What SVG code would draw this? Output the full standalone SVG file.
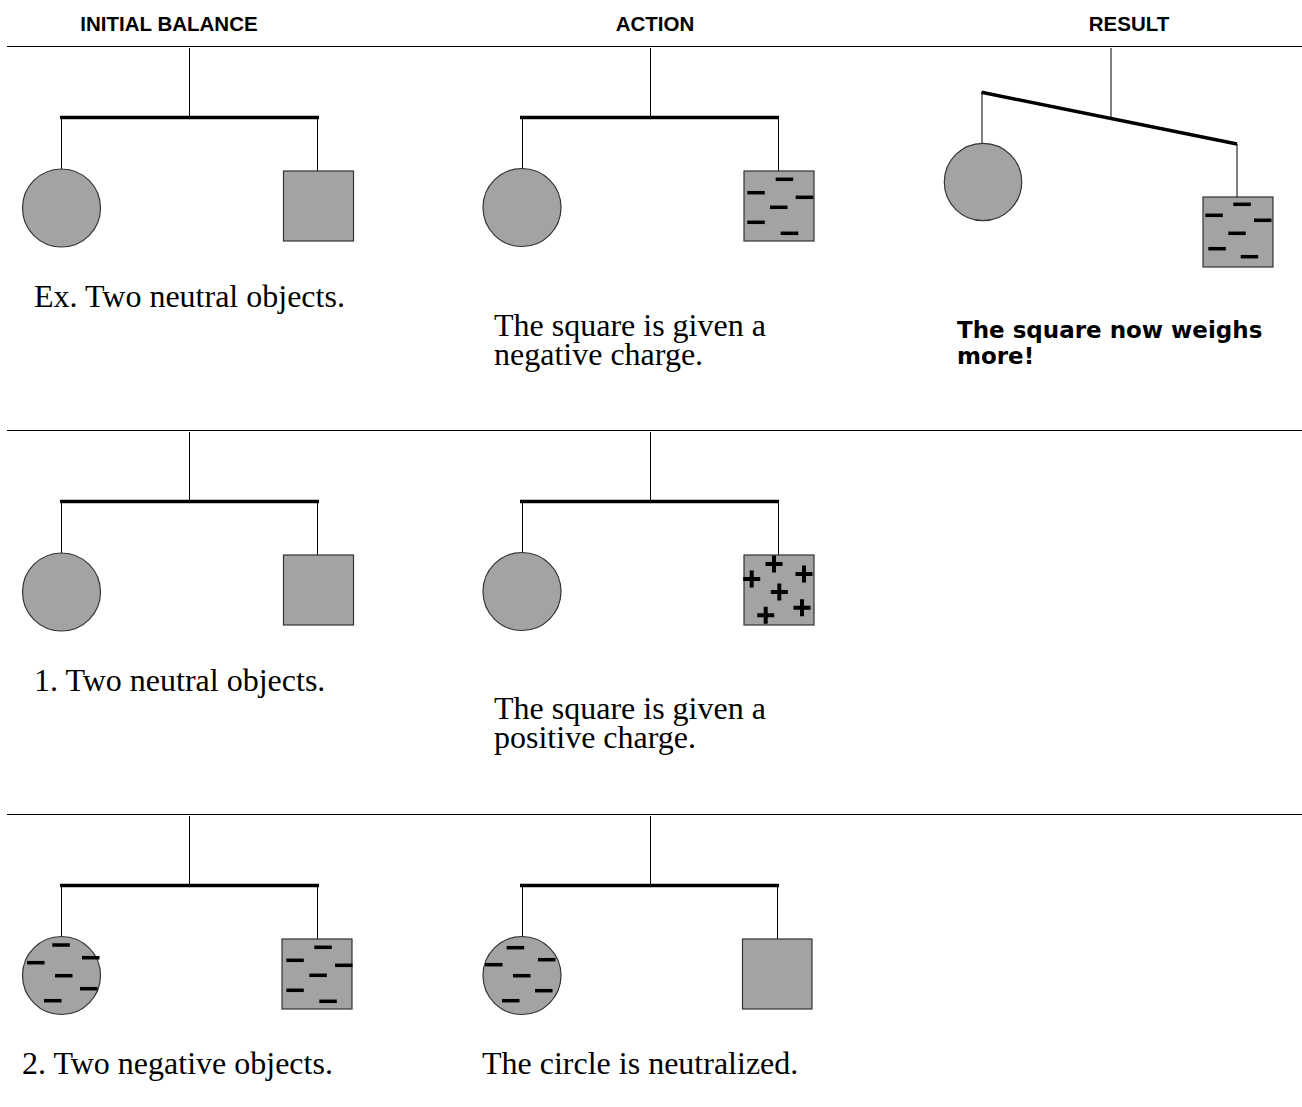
<svg xmlns="http://www.w3.org/2000/svg" width="1302" height="1107" viewBox="0 0 1302 1107">
<style>
  .sep{stroke:#000;stroke-width:1.2;fill:none}
  .str{stroke:#000;stroke-width:1;fill:none}
  .beam{stroke:#000;stroke-width:3.5;fill:none}
  .obj{fill:#a3a3a3;stroke:#333;stroke-width:1.2}
  .neg{fill:#000}
  .pos{stroke:#000;stroke-width:4;fill:none}
  .hdr{font-family:"Liberation Sans",Arial,sans-serif;font-weight:bold;font-size:20.5px;fill:#000;text-anchor:middle}
  .cap{font-family:"Liberation Serif","Times New Roman",serif;font-size:32px;fill:#000}
  .comic{font-family:"Comic Sans MS","DejaVu Sans",sans-serif;font-weight:bold;font-size:23px;fill:#000}
</style>
<defs>
  <rect id="m" class="neg" x="0" y="-1.75" width="17.5" height="3.5"/>
  <path id="p" class="pos" d="M-8.5 0H8.5M0 -8.5V8.5"/>
</defs>
<rect width="1302" height="1107" fill="#fff"/>

<g id="headers">
  <text class="hdr" x="169" y="31">INITIAL BALANCE</text>
  <text class="hdr" x="655" y="31">ACTION</text>
  <text class="hdr" x="1129" y="31">RESULT</text>
</g>

<g id="separators">
  <line class="sep" x1="7" y1="46.5" x2="1302" y2="46.5"/>
  <line class="sep" x1="7" y1="430.5" x2="1302" y2="430.5"/>
  <line class="sep" x1="7" y1="814.5" x2="1302" y2="814.5"/>
</g>

<g id="connectors">
  <!-- row 1 initial -->
  <line class="str" x1="189.5" y1="48" x2="189.5" y2="117"/>
  <line class="beam" x1="60" y1="117.5" x2="319" y2="117.5"/>
  <line class="str" x1="61.5" y1="117" x2="61.5" y2="169"/>
  <line class="str" x1="317.5" y1="117" x2="317.5" y2="171"/>
  <!-- row 1 action -->
  <line class="str" x1="650.5" y1="48" x2="650.5" y2="117"/>
  <line class="beam" x1="520" y1="117.5" x2="779" y2="117.5"/>
  <line class="str" x1="522.5" y1="117" x2="522.5" y2="169"/>
  <line class="str" x1="778.5" y1="117" x2="778.5" y2="171"/>
  <!-- row 1 result -->
  <line class="str" x1="1111" y1="48" x2="1111" y2="118"/>
  <line class="beam" x1="981.5" y1="92.3" x2="1237" y2="144"/>
  <line class="str" x1="982" y1="92" x2="982" y2="143.5"/>
  <line class="str" x1="1237" y1="144" x2="1237" y2="197"/>
  <!-- row 2 initial -->
  <line class="str" x1="189.5" y1="432" x2="189.5" y2="501"/>
  <line class="beam" x1="60" y1="501.5" x2="319" y2="501.5"/>
  <line class="str" x1="61.5" y1="501" x2="61.5" y2="553"/>
  <line class="str" x1="317.5" y1="501" x2="317.5" y2="555"/>
  <!-- row 2 action -->
  <line class="str" x1="650.5" y1="432" x2="650.5" y2="501"/>
  <line class="beam" x1="520" y1="501.5" x2="779" y2="501.5"/>
  <line class="str" x1="522.5" y1="501" x2="522.5" y2="553"/>
  <line class="str" x1="778.5" y1="501" x2="778.5" y2="555"/>
  <!-- row 3 initial -->
  <line class="str" x1="189.5" y1="816" x2="189.5" y2="885"/>
  <line class="beam" x1="60" y1="885.5" x2="319" y2="885.5"/>
  <line class="str" x1="61.5" y1="885" x2="61.5" y2="937"/>
  <line class="str" x1="317.5" y1="885" x2="317.5" y2="939"/>
  <!-- row 3 action -->
  <line class="str" x1="650.5" y1="816" x2="650.5" y2="885"/>
  <line class="beam" x1="520" y1="885.5" x2="779" y2="885.5"/>
  <line class="str" x1="522.5" y1="885" x2="522.5" y2="937"/>
  <line class="str" x1="777.5" y1="885" x2="777.5" y2="939"/>
</g>

<!-- Row 1 -->
<g id="ex-initial-circle"><circle class="obj" cx="61.5" cy="208" r="39"/></g>
<g id="ex-initial-square"><rect class="obj" x="283.5" y="171" width="70" height="70"/></g>

<g id="ex-action-circle"><circle class="obj" cx="522" cy="207.5" r="39"/></g>
<g id="ex-action-square">
  <rect class="obj" x="744" y="171" width="70" height="70"/>
  <use href="#m" x="775.7" y="179.3"/>
  <use href="#m" x="747.3" y="192.7"/>
  <use href="#m" x="795.7" y="197.3"/>
  <use href="#m" x="770" y="207.3"/>
  <use href="#m" x="747.3" y="222.3"/>
  <use href="#m" x="780.7" y="233.3"/>
</g>

<g id="ex-result-circle"><circle class="obj" cx="983" cy="182" r="38.7"/></g>
<g id="ex-result-square">
  <rect class="obj" x="1203" y="197" width="70" height="70"/>
  <use href="#m" x="1233.3" y="204.3"/>
  <use href="#m" x="1205.3" y="215.3"/>
  <use href="#m" x="1254" y="220.3"/>
  <use href="#m" x="1228.3" y="233.3"/>
  <use href="#m" x="1208.3" y="248.7"/>
  <use href="#m" x="1240.7" y="256.7"/>
</g>

<g id="ex-captions">
  <text class="cap" x="34" y="307">Ex. Two neutral objects.</text>
  <text class="cap" x="494" y="336">The square is given a<tspan x="494" dy="29">negative charge.</tspan></text>
  <text class="comic" x="957" y="338">The square now weighs<tspan x="957" dy="26">more!</tspan></text>
</g>

<!-- Row 2 -->
<g id="r1-initial-circle"><circle class="obj" cx="61.5" cy="592" r="39"/></g>
<g id="r1-initial-square"><rect class="obj" x="283.5" y="555" width="70" height="70"/></g>

<g id="r1-action-circle"><circle class="obj" cx="522" cy="591.5" r="39"/></g>
<g id="r1-action-square">
  <rect class="obj" x="744" y="555" width="70" height="70"/>
  <use href="#p" x="774" y="564"/>
  <use href="#p" x="751.7" y="579"/>
  <use href="#p" x="804" y="574"/>
  <use href="#p" x="779.3" y="592"/>
  <use href="#p" x="802" y="607.7"/>
  <use href="#p" x="765.7" y="615.3"/>
</g>

<g id="r1-captions">
  <text class="cap" x="34" y="691">1. Two neutral objects.</text>
  <text class="cap" x="494" y="719">The square is given a<tspan x="494" dy="29">positive charge.</tspan></text>
</g>

<!-- Row 3 -->
<g id="r2-initial-circle">
  <circle class="obj" cx="61.5" cy="975.5" r="39"/>
  <use href="#m" x="52.3" y="945"/>
  <use href="#m" x="27" y="962.7"/>
  <use href="#m" x="82" y="957.7"/>
  <use href="#m" x="55" y="975.7"/>
  <use href="#m" x="80" y="988.7"/>
  <use href="#m" x="44" y="1000.7"/>
</g>
<g id="r2-initial-square">
  <rect class="obj" x="282" y="939" width="70" height="70"/>
  <use href="#m" x="314.3" y="947.3"/>
  <use href="#m" x="286.3" y="960.3"/>
  <use href="#m" x="335" y="965.3"/>
  <use href="#m" x="309.3" y="975.3"/>
  <use href="#m" x="286.3" y="990.3"/>
  <use href="#m" x="319.3" y="1001.3"/>
</g>

<g id="r2-action-circle">
  <circle class="obj" cx="522" cy="975.5" r="39"/>
  <use href="#m" x="506.7" y="947.7"/>
  <use href="#m" x="485" y="964.7"/>
  <use href="#m" x="538" y="959.7"/>
  <use href="#m" x="513" y="975.7"/>
  <use href="#m" x="535" y="990.7"/>
  <use href="#m" x="502" y="1000.7"/>
</g>
<g id="r2-action-square"><rect class="obj" x="742.5" y="939" width="69.5" height="70"/></g>

<g id="r2-captions">
  <text class="cap" x="22" y="1074">2. Two negative objects.</text>
  <text class="cap" x="482" y="1074">The circle is neutralized.</text>
</g>
</svg>
